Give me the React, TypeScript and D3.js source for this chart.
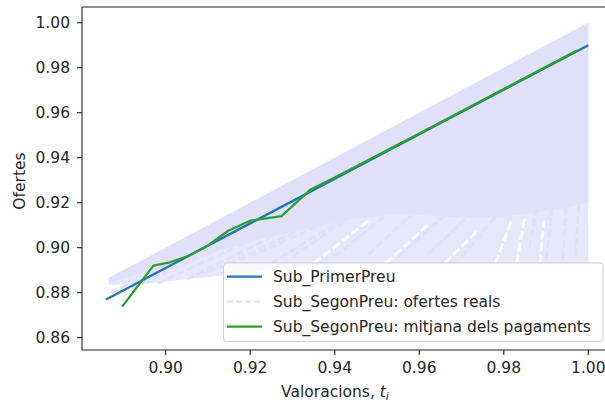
import React, { useEffect, useRef } from 'react';
import * as d3 from 'd3';

// valoracions / ofertes
const xTicks = [0.9, 0.92, 0.94, 0.96, 0.98, 1.0];
const yTicks = [0.86, 0.88, 0.9, 0.92, 0.94, 0.96, 0.98, 1.0];

// Sub_PrimerPreu
const primerX = [0.8859, 0.92, 0.96, 1.0];
const primerY = [0.8770, 0.9108, 0.9504, 0.99];

// Sub_SegonPreu: mitjana dels pagaments
const mitjanaX = [0.8897, 0.8971, 0.901, 0.905, 0.91, 0.9148, 0.92, 0.9274, 0.9341, 0.94, 0.95, 0.96, 0.97, 0.98, 0.99, 0.9973];
const mitjanaY = [0.8738, 0.892, 0.8935, 0.896, 0.901, 0.9075, 0.912, 0.914, 0.9256, 0.9312, 0.941, 0.9507, 0.9606, 0.9705, 0.9804, 0.9876];

// Sub_SegonPreu: ofertes reals (envelope of the dashed lines)
const realsX = [0.8865, 0.895, 0.905, 0.915, 0.925, 0.935, 0.945, 0.955, 0.965, 0.975, 0.985, 0.995, 1.0];
const realsTop = [0.8865, 0.895, 0.905, 0.915, 0.925, 0.935, 0.945, 0.955, 0.965, 0.975, 0.985, 0.995, 1.0];
const realsSolidLow = [0.8845, 0.889, 0.894, 0.9, 0.905, 0.909, 0.913, 0.915, 0.914, 0.913, 0.915, 0.918, 0.92];
const realsLow = [0.8835, 0.884, 0.886, 0.888, 0.89, 0.892, 0.893, 0.893, 0.893, 0.893, 0.893, 0.893, 0.893];

// a few of the individual dashed bid lines
const streaks = [
  [0.887, 0.88, 0.915, 0.905],
  [0.892, 0.882, 0.925, 0.91],
  [0.898, 0.884, 0.93, 0.912],
  [0.905, 0.886, 0.935, 0.914],
  [0.91, 0.889, 0.94, 0.915],
  [0.915, 0.892, 0.945, 0.917],
  [0.925, 0.893, 0.948, 0.92],
  [0.93, 0.896, 0.95, 0.922],
  [0.94, 0.896, 0.957, 0.922],
  [0.948, 0.897, 0.963, 0.923],
  [0.955, 0.896, 0.97, 0.921],
  [0.962, 0.897, 0.975, 0.92],
  [0.97, 0.896, 0.98, 0.918],
  [0.99, 0.895, 0.992, 0.925],
  [0.994, 0.895, 0.995, 0.927],
  [0.997, 0.896, 0.998, 0.928],
  [0.986, 0.9, 0.988, 0.92],
];

// white gaps between the dashed lines
const gaps = [
  [0.935, 0.893, 0.948, 0.912],
  [0.952, 0.893, 0.962, 0.91],
  [0.966, 0.893, 0.974, 0.908],
  [0.978, 0.893, 0.982, 0.913],
  [0.983, 0.893, 0.985, 0.914],
  [0.9885, 0.893, 0.9895, 0.912],
];

const legendLabels = ['Sub_PrimerPreu', 'Sub_SegonPreu: ofertes reals', 'Sub_SegonPreu: mitjana dels pagaments'];

const W = 605;
const H = 403;
const FONT = 'DejaVu Sans, sans-serif';
const LAV = '#e0e0fa';

const App = () => {
  const svgRef = useRef<SVGSVGElement>(null);

  useEffect(() => {
    const svg = d3.select(svgRef.current);
    svg.selectAll('*').remove();

    const left = 82, right = 612, top = 7, bottom = 350;
    const x = d3.scaleLinear().domain([0.8802, 1.0056]).range([left, right]);
    const y = d3.scaleLinear().domain([0.8545, 1.007]).range([bottom, top]);

    svg.append('rect').attr('width', W).attr('height', H).attr('fill', '#fff');

    // ofertes reals: light zone, streaks, solid band
    const idx = d3.range(realsX.length);
    const areaLight = d3.area<number>().x(i => x(realsX[i])).y0(i => y(realsLow[i])).y1(i => y(realsTop[i]));
    svg.append('path').attr('d', areaLight(idx)).attr('fill', '#e7e7fb');

    svg.selectAll('.gap').data(gaps).enter().append('line')
      .attr('x1', d => x(d[0])).attr('y1', d => y(d[1]))
      .attr('x2', d => x(d[2])).attr('y2', d => y(d[3]))
      .attr('stroke', '#fbfbff').attr('stroke-width', 3).attr('stroke-dasharray', '9 3');

    svg.selectAll('.streak').data(streaks).enter().append('line')
      .attr('x1', d => x(d[0])).attr('y1', d => y(d[1]))
      .attr('x2', d => x(d[2])).attr('y2', d => y(d[3]))
      .attr('stroke', LAV).attr('stroke-width', 3).attr('stroke-dasharray', '8 3');

    const areaSolid = d3.area<number>().x(i => x(realsX[i])).y0(i => y(realsSolidLow[i])).y1(i => y(realsTop[i]));
    svg.append('path').attr('d', areaSolid(idx)).attr('fill', LAV);

    const line = d3.line<[number, number]>().x(d => x(d[0])).y(d => y(d[1]));

    svg.append('path')
      .attr('d', line(primerX.map((v, i) => [v, primerY[i]] as [number, number])))
      .attr('fill', 'none').attr('stroke', '#1f77b4').attr('stroke-width', 2.3);

    svg.append('path')
      .attr('d', line(mitjanaX.map((v, i) => [v, mitjanaY[i]] as [number, number])))
      .attr('fill', 'none').attr('stroke', '#2ca02c').attr('stroke-width', 2.3)
      .attr('stroke-linejoin', 'round');

    // spines
    const ax = svg.append('g').attr('stroke', '#222').attr('stroke-width', 1.1);
    ax.append('line').attr('x1', left).attr('x2', left).attr('y1', top).attr('y2', bottom);
    ax.append('line').attr('x1', left).attr('x2', right).attr('y1', bottom).attr('y2', bottom);
    ax.append('line').attr('x1', left).attr('x2', right).attr('y1', top).attr('y2', top);
    ax.append('line').attr('x1', right).attr('x2', right).attr('y1', top).attr('y2', bottom);

    // ticks
    xTicks.forEach(t => {
      svg.append('line').attr('x1', x(t)).attr('x2', x(t)).attr('y1', bottom).attr('y2', bottom + 5)
        .attr('stroke', '#222').attr('stroke-width', 1.1);
      svg.append('text').attr('x', x(t)).attr('y', 373).attr('text-anchor', 'middle')
        .attr('font-family', FONT).attr('font-size', 15.5).attr('fill', '#262626')
        .text(t.toFixed(2));
    });
    yTicks.forEach(t => {
      svg.append('line').attr('x1', left - 5).attr('x2', left).attr('y1', y(t)).attr('y2', y(t))
        .attr('stroke', '#222').attr('stroke-width', 1.1);
      svg.append('text').attr('x', 70).attr('y', y(t) + 5.6).attr('text-anchor', 'end')
        .attr('font-family', FONT).attr('font-size', 15.5).attr('fill', '#262626')
        .text(t.toFixed(2));
    });

    // axis labels
    const xl = svg.append('text').attr('x', 335).attr('y', 397).attr('text-anchor', 'middle')
      .attr('font-family', FONT).attr('font-size', 15.5).attr('fill', '#262626');
    xl.append('tspan').text('Valoracions, ');
    xl.append('tspan').attr('font-style', 'italic').text('t');
    xl.append('tspan').attr('font-style', 'italic').attr('font-size', 11).attr('dy', 3).text('i');

    svg.append('text').attr('transform', 'translate(24.5,181) rotate(-90)').attr('text-anchor', 'middle')
      .attr('font-family', FONT).attr('font-size', 15.5).attr('fill', '#262626').text('Ofertes');

    // legend
    const lg = svg.append('g');
    lg.append('rect').attr('x', 223.5).attr('y', 263).attr('width', 379.5).attr('height', 78.5).attr('rx', 3)
      .attr('fill', 'rgba(255,255,255,0.8)').attr('stroke', '#d0d0d0').attr('stroke-width', 1);
    const styles = [
      { color: '#1f77b4', dash: null },
      { color: LAV, dash: '6 3' },
      { color: '#2ca02c', dash: null },
    ];
    legendLabels.forEach((lab, i) => {
      const cy = 276.7 + i * 25;
      const l = lg.append('line').attr('x1', 227).attr('x2', 262).attr('y1', cy).attr('y2', cy)
        .attr('stroke', styles[i].color).attr('stroke-width', 2.3);
      if (styles[i].dash) l.attr('stroke-dasharray', styles[i].dash);
      lg.append('text').attr('x', 273).attr('y', cy + 5.6)
        .attr('font-family', FONT).attr('font-size', 15.5).attr('fill', '#262626').text(lab);
    });
  }, []);

  return <svg ref={svgRef} width={W} height={H} style={{ position: 'absolute', left: 0, top: 0 }}></svg>;
};

export default App;
